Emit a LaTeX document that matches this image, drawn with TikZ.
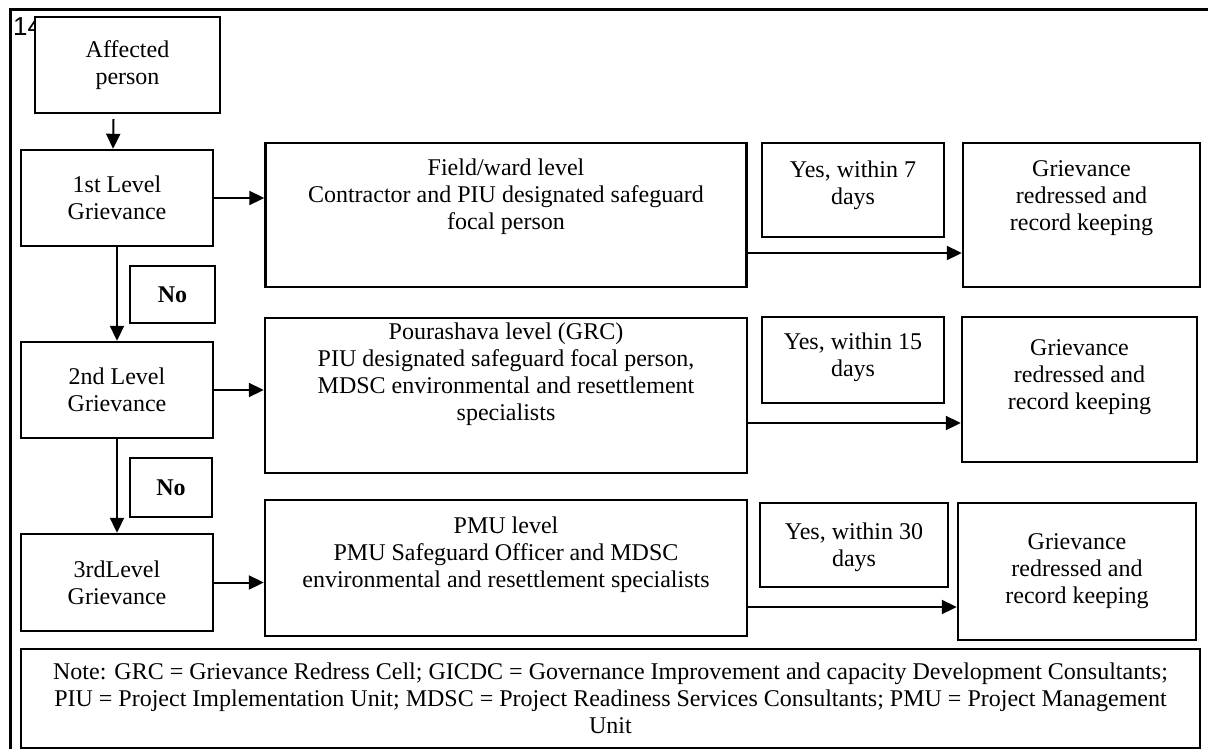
\documentclass[tikz,border=0pt]{standalone}
\usepackage{fontspec}
\setmainfont{Liberation Serif}
\newfontfamily\pagefont{Liberation Sans}
\usetikzlibrary{positioning,arrows.meta}

\begin{document}
\begin{tikzpicture}[x=1pt, y=-1pt,
		every node/.style={font=\fontsize{24}{27}\selectfont},
		b/.style={draw, fill=white, line width=2.4pt, inner sep=0pt, align=center},
		t/.style={inner sep=0pt, align=center},
		arr/.style={-{Triangle[length=15pt,width=14pt]}, line width=2pt}]
		\useasboundingbox (0,0) rectangle (1208,749);
		\draw[line width=3pt] (10,760) -- (10,10) -- (1220,10);
		\node[anchor=north west, inner sep=0pt, font=\pagefont\fontsize{26}{30}\selectfont] (pg) at (13,17) {14};

		% left column
		\node[b, minimum width=185pt, minimum height=96pt] (ap) at (127.5,65) {Affected\\person};
		\node[b, minimum width=192pt, minimum height=96pt] (l1) at (117,198) {1st Level\\Grievance};
		\node[b, minimum width=85pt, minimum height=57pt, font=\bfseries\fontsize{24}{27}\selectfont] (no1) at (172.5,294.5) {No};
		\node[b, minimum width=192pt, minimum height=96pt] (l2) at (117,390) {2nd Level\\Grievance};
		\node[b, minimum width=82pt, minimum height=59pt, font=\bfseries\fontsize{24}{27}\selectfont] (no2) at (171,487.5) {No};
		\node[b, minimum width=192pt, minimum height=97pt] (l3) at (117,582.5) {3rdLevel\\Grievance};

		% middle column
		\node[b, minimum width=481pt, minimum height=144pt] (m1) at (506,215) {};
		\node[t, below=17pt of m1.north] (m1t) {Field/ward level\\Contractor and PIU designated safeguard\\focal person};
		\node[b, minimum width=482pt, minimum height=155pt] (m2) at (506,395.5) {};
		\node[t, below=6pt of m2.north] (m2t) {Pourashava level (GRC)\\PIU designated safeguard focal person,\\MDSC environmental and resettlement\\specialists};
		\node[b, minimum width=482pt, minimum height=136pt] (m3) at (506,568) {};
		\node[t, below=18pt of m3.north] (m3t) {PMU level\\PMU Safeguard Officer and MDSC\\environmental and resettlement specialists};

		% yes boxes
		\node[b, minimum width=182pt, minimum height=94pt] (y1) at (853,190) {};
		\node[t, below=19pt of y1.north] (y1t) {Yes, within 7\\days};
		\node[b, minimum width=182pt, minimum height=86pt] (y2) at (853,360) {};
		\node[t, below=17pt of y2.north] (y2t) {Yes, within 15\\days};
		\node[b, minimum width=188pt, minimum height=84pt] (y3) at (854,545) {};
		\node[t, below=21pt of y3.north] (y3t) {Yes, within 30\\days};

		% right column
		\node[b, minimum width=237pt, minimum height=144pt] (g1) at (1081.5,215) {};
		\node[t, below=19pt of g1.north] (g1t) {Grievance\\redressed and\\record keeping};
		\node[b, minimum width=235pt, minimum height=145pt] (g2) at (1079.5,389.5) {};
		\node[t, below=24pt of g2.north] (g2t) {Grievance\\redressed and\\record keeping};
		\node[b, minimum width=238pt, minimum height=137pt] (g3) at (1077,571.5) {Grievance\\redressed and\\record keeping};

		\node[b, minimum width=1179pt, minimum height=99pt] (nt) at (610.5,698.5) {Note: GRC = Grievance Redress Cell; GICDC = Governance Improvement and capacity Development Consultants;\\PIU = Project Implementation Unit; MDSC = Project Readiness Services Consultants; PMU = Project Management\\Unit};

		\draw[arr] ([xshift=-14pt,yshift=-5pt]ap.south) -- ([xshift=-4pt]l1.north);
		\draw[arr] (l1) -- (l2);
		\draw[arr] (l2) -- (l3);
		\draw[arr] (l1.east) -- (l1.east -| m1.west);
		\draw[arr] (l2.east) -- (l2.east -| m2.west);
		\draw[arr] (l3.east) -- (l3.east -| m3.west);
		\draw[arr] ([yshift=-38pt]m1.east) -- ([yshift=-38pt]m1.east -| g1.west);
		\draw[arr] ([yshift=-27.5pt]m2.east) -- ([yshift=-27.5pt]m2.east -| g2.west);
		\draw[arr] ([yshift=-39pt]m3.east) -- ([yshift=-39pt]m3.east -| g3.west);
	\end{tikzpicture}
\end{document}
